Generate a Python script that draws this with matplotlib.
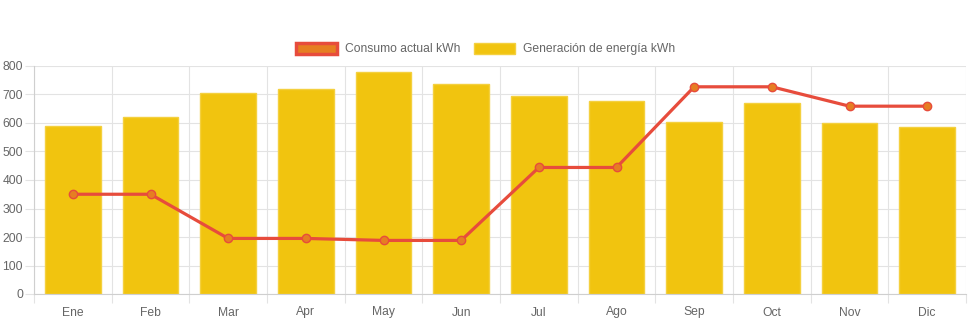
import matplotlib.pyplot as plt
from matplotlib.patches import Patch
import numpy as np

plt.rcParams['font.family'] = ['Liberation Sans', 'DejaVu Sans']

meses = ['Ene', 'Feb', 'Mar', 'Apr', 'May', 'Jun', 'Jul', 'Ago', 'Sep', 'Oct', 'Nov', 'Dic']
generacion = [590, 620, 705, 719, 780, 737, 696, 676, 602, 670, 600, 585]
consumo = [350, 350, 195, 195, 188, 188, 444, 444, 727, 727, 659, 659]

fig = plt.figure(figsize=(9.71, 3.23), dpi=100)
ax = fig.add_axes([34/971, 29/323, 932/971, 228/323])

x = np.arange(len(meses))
ax.bar(x, generacion, width=0.72, color='#F1C40F', edgecolor='#F4D03F', linewidth=1, zorder=2)
ax.plot(x, consumo, color='#E74C3C', linewidth=2.3, marker='o', markersize=6,
        markerfacecolor='#E67E22', markeredgecolor='#E74C3C', markeredgewidth=1, zorder=3)

ax.set_xlim(-0.5, len(meses) - 0.5)
ax.set_ylim(0, 800)
ax.set_yticks(range(0, 801, 100))
ax.set_xticks(x)
ax.set_xticklabels(meses)
ax.set_xticks(np.arange(-0.5, len(meses)), minor=True)

ax.grid(True, which='minor', axis='x', color='#e3e3e3', linewidth=0.8, zorder=0)
ax.grid(True, which='major', axis='y', color='#e3e3e3', linewidth=0.8, zorder=0)
ax.tick_params(axis='x', which='major', length=0, pad=9, labelsize=8.7, labelcolor='#666666')
ax.tick_params(axis='x', which='minor', length=6.5, color='#e3e3e3', width=0.8)
ax.tick_params(axis='y', length=6.5, color='#e3e3e3', width=0.8, labelsize=8.7, labelcolor='#666666', pad=1.5)

for s in ['top', 'right']:
    ax.spines[s].set_visible(False)
ax.spines['left'].set_color('#cfcfcf')
ax.spines['bottom'].set_color('#cfcfcf')
ax.set_axisbelow(True)

handles = [
    Patch(facecolor='#E67E22', edgecolor='#E74C3C', linewidth=2.5, label='Consumo actual kWh'),
    Patch(facecolor='#F1C40F', edgecolor='#F4D03F', linewidth=1, label='Generación de energía kWh'),
]
leg = fig.legend(handles=handles, loc='center', bbox_to_anchor=(0.5, 1 - 49/323), ncol=2,
                 frameon=False, fontsize=8.7, handlelength=3.4, handleheight=1.0,
                 columnspacing=1.2, handletextpad=0.6)
for t in leg.get_texts():
    t.set_color('#666666')

fig.savefig('out.png', dpi=100)
